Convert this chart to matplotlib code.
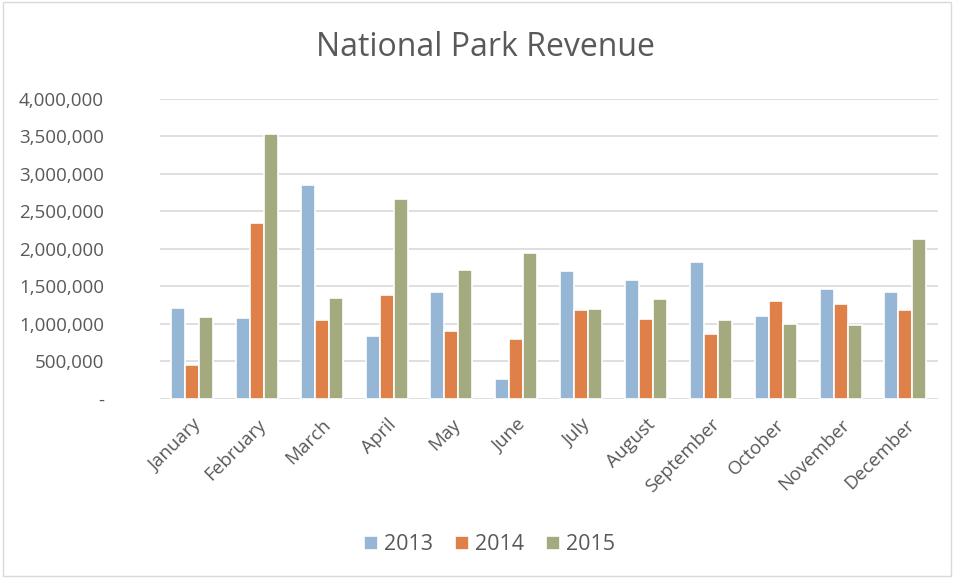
import numpy as np
import matplotlib.pyplot as plt
from matplotlib.ticker import FuncFormatter

months = ["January", "February", "March", "April", "May", "June", "July",
          "August", "September", "October", "November", "December"]
rev_2013 = [1210000, 1080000, 2845000, 840000, 1422000, 262000,
            1702000, 1591000, 1831000, 1098000, 1458000, 1431000]
rev_2014 = [449000, 2351000, 1049000, 1387000, 902000, 800000,
            1191000, 1062000, 858000, 1302000, 1262000, 1182000]
rev_2015 = [1089000, 3533000, 1338000, 2667000, 1720000, 1951000,
            1196000, 1329000, 1053000, 996000, 987000, 2129000]
years = ["2013", "2014", "2015"]
colors = ["#95B6D4", "#DE8048", "#A5AA7E"]

plt.rcParams['font.family'] = ['Open Sans', 'DejaVu Sans']

fig = plt.figure(figsize=(9.56, 5.78), dpi=100)
ax = fig.add_axes([0.167, 0.310, 0.814, 0.519])

x = np.arange(len(months))
w = 0.216
for i, (vals, lab, c) in enumerate(zip([rev_2013, rev_2014, rev_2015], years, colors)):
    ax.bar(x + (i - 1) * w, vals, width=w, color=c, edgecolor='white',
           linewidth=1.2, label=lab, zorder=3)

ax.set_xlim(-0.5, 11.5)
ax.set_ylim(0, 4000000)
ax.set_yticks(np.arange(0, 4000001, 500000))
ax.yaxis.set_major_formatter(FuncFormatter(lambda v, p: '-' if v == 0 else f'{int(v):,}'))
ax.grid(axis='y', color='#D9D9D9', linewidth=1.2, zorder=0)
for s in ax.spines.values():
    s.set_visible(False)
ax.set_xticks(x)
ax.set_xticklabels(months, rotation=45, ha='right', rotation_mode='anchor')
ax.tick_params(axis='both', length=0, colors='#595959', labelsize=13.5)
ax.tick_params(axis='y', pad=40)
ax.tick_params(axis='x', pad=12)

fig.text(0.508, 0.918, "National Park Revenue", ha='center', va='center',
         fontsize=23, color='#595959')

ax.legend(loc='center', bbox_to_anchor=(0.424, -0.487), ncol=3, frameon=False,
          fontsize=15.5, labelcolor='#595959', handlelength=0.65, handleheight=0.65,
          handletextpad=0.3, columnspacing=1.0)

fig.patches.append(plt.Rectangle((0.003, 0.004), 0.992, 0.992, transform=fig.transFigure,
                                 fill=False, edgecolor='#D9D9D9', linewidth=1))

fig.savefig("out.png", dpi=100)
